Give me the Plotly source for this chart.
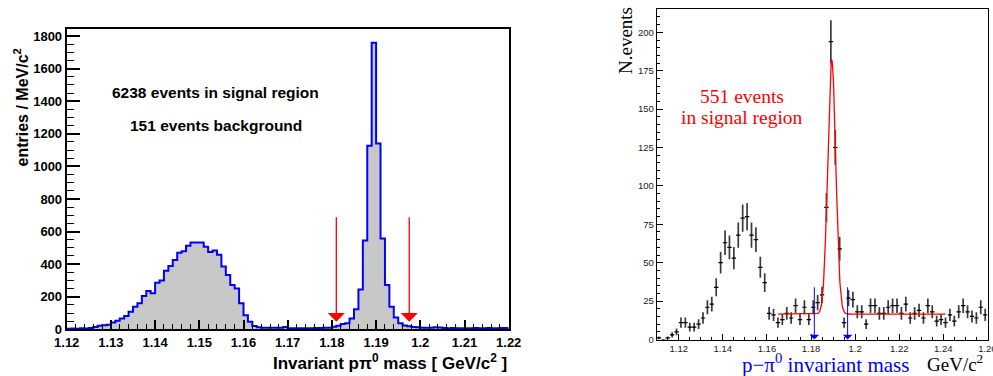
import numpy as np
import plotly.graph_objects as go

# ---------------- data: left panel (1 MeV bins from 1.120 to 1.220) ----------------
left_bin_start = 1.12
left_bin_width = 0.001
left_counts = [
    4, 5, 4, 6, 5, 8, 14, 22, 25, 28,
    41, 53, 67, 82, 108, 139, 160, 205, 235, 221,
    286, 299, 360, 389, 425, 470, 479, 513, 532, 532,
    532, 507, 474, 484, 457, 385, 333, 272, 251, 160,
    87, 47, 20, 12, 10, 9, 9, 10, 10, 14,
    7, 6, 6, 7, 7, 7, 8, 8, 9, 10,
    16, 22, 33, 37, 67, 123, 245, 545, 1127, 1759,
    1141, 558, 272, 139, 72, 37, 24, 18, 14, 12,
    10, 9, 10, 12, 11, 8, 7, 8, 7, 6,
    6, 7, 8, 6, 7, 8, 6, 7, 8, 8,
]
left_xticks = [1.12, 1.13, 1.14, 1.15, 1.16, 1.17, 1.18, 1.19, 1.20, 1.21, 1.22]
left_xticktext = ["1.12", "1.13", "1.14", "1.15", "1.16", "1.17", "1.18", "1.19", "1.2", "1.21", "1.22"]
left_yticks = [0, 200, 400, 600, 800, 1000, 1200, 1400, 1600, 1800]
left_cuts = [1.181, 1.1975]
left_arrow_top = 697
left_arrow_tip = 47

# ---------------- data: right panel (2 MeV bins from 1.110 to 1.260) ----------------
right_bin_start = 1.11
right_bin_width = 0.002
right_counts = [
    1, 0, 1, 3, 5, 11, 11, 8, 8, 10,
    14, 21, 23, 34, 50, 63, 60, 53, 68, 79,
    80, 68, 65, 47, 37, 17, 16, 11, 13, 17,
    14, 22, 13, 21, 13, 21, 24, 29, 86, 194,
    125, 59, 11, 27, 26, 18, 18, 10, 22, 22,
    17, 17, 21, 22, 22, 17, 23, 14, 17, 19,
    14, 22, 18, 12, 13, 11, 16, 12, 18, 22,
    18, 15, 14, 21, 16,
]
right_xticks = [1.12, 1.14, 1.16, 1.18, 1.20, 1.22, 1.24, 1.26]
right_xticktext = ["1.12", "1.14", "1.16", "1.18", "1.2", "1.22", "1.24", "1.26"]
right_yticks = [0, 25, 50, 75, 100, 125, 150, 175, 200]
# fit: gaussian + flat background
fit_range = [1.165, 1.241]
fit_mean = 1.1894
fit_sigma = 0.00182
fit_amp = 165.5
fit_bg = 16.5
right_cuts = [1.1815, 1.1966]
right_arrow_top = 35

# ---------------- build figure ----------------
fig = go.Figure()

edges = left_bin_start + left_bin_width * np.arange(len(left_counts) + 1)
step_y = list(left_counts) + [left_counts[-1]]
fig.add_trace(go.Scatter(
    x=edges, y=step_y, mode="lines", line_shape="hv",
    line=dict(color="#0000ff", width=2),
    fill="tozeroy", fillcolor="#c8c8c8",
    xaxis="x", yaxis="y", showlegend=False, hoverinfo="skip"))

centers = right_bin_start + right_bin_width * (np.arange(len(right_counts)) + 0.5)
rc = np.array(right_counts, dtype=float)
fig.add_trace(go.Scatter(
    x=centers, y=rc, mode="markers",
    marker=dict(size=1, color="black"),
    error_y=dict(type="data", array=np.sqrt(rc), visible=True, width=0, thickness=1.7, color="#3a3a3a"),
    error_x=dict(type="constant", value=right_bin_width / 2, visible=True, width=0, thickness=1.2, color="#000000"),
    xaxis="x2", yaxis="y2", showlegend=False, hoverinfo="skip"))

fx = np.linspace(fit_range[0], fit_range[1], 600)
fy = fit_bg + fit_amp * np.exp(-0.5 * ((fx - fit_mean) / fit_sigma) ** 2)
fig.add_trace(go.Scatter(
    x=fx, y=fy, mode="lines", line=dict(color="#ff0000", width=1.3),
    xaxis="x2", yaxis="y2", showlegend=False, hoverinfo="skip"))

W, H = 993, 376
lx0, lx1, ly_top, ly_bot = 66.7, 508.7, 28.7, 329.3
rx0, rx1, ry_top, ry_bot = 656.7, 987.5, 9.3, 339.5

SANS = "Liberation Sans, Arial, sans-serif"
bold = dict(family=SANS, size=13, color="black", weight="bold")
serif = "Liberation Serif, Times New Roman, serif"
small = dict(family=SANS, size=9.5, color="#222")

fig.update_layout(
    width=W, height=H, margin=dict(l=0, r=0, t=0, b=0, autoexpand=False),
    paper_bgcolor="white", plot_bgcolor="white",
    xaxis=dict(domain=[lx0 / W, lx1 / W], range=[1.12, 1.22], automargin=False,
               tickvals=left_xticks, ticktext=left_xticktext, ticklabeloverflow="allow",
               ticks="inside", ticklen=9, tickwidth=1.5, tickcolor="black",
               minor=dict(dtick=0.002, tick0=1.12, ticks="inside", ticklen=5, tickwidth=1.2, tickcolor="black"),
               showline=True, linecolor="black", linewidth=2, mirror=True,
               showgrid=False, zeroline=False, tickfont=bold, anchor="y"),
    yaxis=dict(domain=[(H - ly_bot) / H, (H - ly_top) / H], range=[0, 1845], automargin=False,
               tickvals=left_yticks, ticks="inside", ticklen=13, tickwidth=1.5, tickcolor="black",
               minor=dict(dtick=50, tick0=0, ticks="inside", ticklen=7, tickwidth=1.2, tickcolor="black"),
               showline=True, linecolor="black", linewidth=2, mirror=True,
               showgrid=False, zeroline=False, tickfont=bold, anchor="x"),
    xaxis2=dict(domain=[rx0 / W, rx1 / W], range=[1.11, 1.26005], automargin=False,
                tickvals=right_xticks, ticktext=right_xticktext, ticklabeloverflow="allow",
                ticks="inside", ticklen=6, tickwidth=1, tickcolor="black",
                minor=dict(dtick=0.005, tick0=1.11, ticks="inside", ticklen=3, tickwidth=1, tickcolor="black"),
                showline=True, linecolor="black", linewidth=1, mirror=True,
                showgrid=False, zeroline=False, tickfont=small, anchor="y2"),
    yaxis2=dict(domain=[(H - ry_bot) / H, (H - ry_top) / H], range=[0, 215], automargin=False,
                tickvals=right_yticks, ticks="inside", ticklen=6, tickwidth=1, tickcolor="black",
                minor=dict(dtick=5, tick0=0, ticks="inside", ticklen=3, tickwidth=1, tickcolor="black"),
                showline=True, linecolor="black", linewidth=1, mirror=True,
                showgrid=False, zeroline=False, tickfont=small, anchor="x2"),
)

ann = []
# left panel texts
ann.append(dict(text="6238 events in signal region", x=1.1537, y=1452, xref="x", yref="y",
                xanchor="center", yanchor="middle",
                showarrow=False, font=dict(family=SANS, size=15.5, color="black", weight="bold")))
ann.append(dict(text="151 events background", x=1.1537, y=1248, xref="x", yref="y",
                xanchor="center", yanchor="middle",
                showarrow=False, font=dict(family=SANS, size=15.5, color="black", weight="bold")))
ann.append(dict(text="entries / MeV/c<sup>2</sup>", x=21.5 / W, y=(H - 108) / H, xref="paper", yref="paper",
                textangle=-90, showarrow=False, xanchor="center", yanchor="middle",
                font=dict(family=SANS, size=16, color="black", weight="bold")))
ann.append(dict(text="Invariant pπ<sup>0</sup> mass [ GeV/c<sup>2</sup> ]", x=lx1 / W, y=(H - 362) / H,
                xref="paper", yref="paper", xanchor="right", yanchor="middle", showarrow=False,
                font=dict(family=SANS, size=17, color="black", weight="bold")))
for c in left_cuts:
    ann.append(dict(x=c, y=left_arrow_tip, ax=c, ay=left_arrow_top, xref="x", yref="y", axref="x", ayref="y",
                    text="", showarrow=True, arrowhead=1, arrowsize=2.2, arrowwidth=1.3, arrowcolor="#ff0000"))
# right panel texts
ann.append(dict(text="551 events", x=741.7 / W, y=(H - 96) / H, xref="paper", yref="paper",
                xanchor="center", yanchor="middle",
                showarrow=False, font=dict(family=serif, size=19.5, color="#ff0000")))
ann.append(dict(text="in signal region", x=741.7 / W, y=(H - 117) / H, xref="paper", yref="paper",
                xanchor="center", yanchor="middle",
                showarrow=False, font=dict(family=serif, size=19.5, color="#ff0000")))
ann.append(dict(text="N.events", x=625 / W, y=(H - 41) / H, xref="paper", yref="paper", textangle=-90,
                showarrow=False, xanchor="center", yanchor="middle",
                font=dict(family=serif, size=19, color="black")))
ann.append(dict(text="p−π<sup>0</sup> invariant mass", x=825 / W, y=(H - 363) / H, xref="paper", yref="paper",
                showarrow=False, xanchor="center", yanchor="middle",
                font=dict(family=serif, size=21, color="#0000ff")))
ann.append(dict(text="GeV/c<sup>2</sup>", x=955 / W, y=(H - 363) / H, xref="paper", yref="paper",
                showarrow=False, xanchor="center", yanchor="middle",
                font=dict(family=serif, size=19, color="black")))
for c in right_cuts:
    ann.append(dict(x=c, y=0, ax=c, ay=right_arrow_top, xref="x2", yref="y2", axref="x2", ayref="y2",
                    text="", showarrow=True, arrowhead=1, arrowsize=1.6, arrowwidth=1, arrowcolor="#0000ff"))
fig.update_layout(annotations=ann)

fig.write_html("out.html", config={"displayModeBar": False},
               post_script="document.body.style.margin='0px';document.body.style.overflow='hidden';")
